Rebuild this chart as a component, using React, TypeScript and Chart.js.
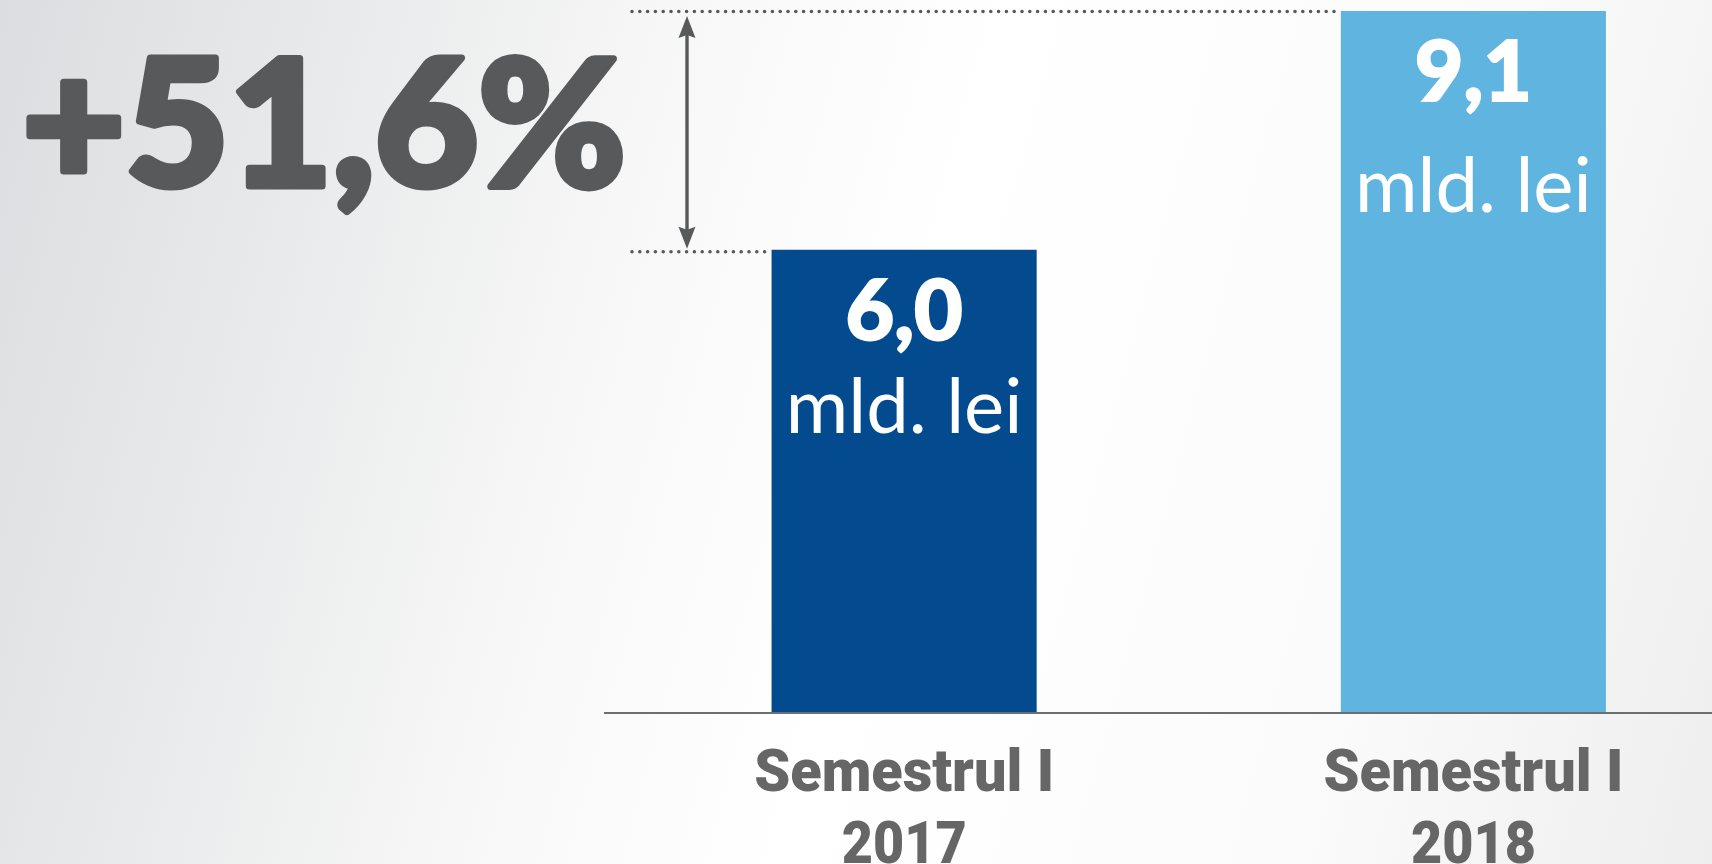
import React, { useEffect, useRef } from "react";
import { Chart, registerables } from "chart.js";

Chart.register(...registerables);

// ---- data ----
const periods: string[] = ["Semestrul I", "Semestrul I"];
const years: string[] = ["2017", "2018"];
const values: number[] = [6.0, 9.1];
const unitLabel = "mld. lei";
const growthLabel = "+51,6%";
const barColors: string[] = ["#034a8f", "#60b5e0"];

const fmt = (v: number) => v.toFixed(1).replace(".", ",");

const GRAY = "#58595b";

function drawFitted(
  ctx: CanvasRenderingContext2D,
  text: string,
  x: number,
  y: number,
  targetW: number,
  align: "left" | "center",
  stroke = 0
) {
  const w = ctx.measureText(text).width;
  const sx = Math.max(0.7, Math.min(1.25, targetW / w));
  ctx.save();
  ctx.translate(x, y);
  ctx.scale(sx, 1);
  ctx.textAlign = align;
  if (stroke > 0) {
    ctx.lineWidth = stroke;
    ctx.lineJoin = "round";
    ctx.strokeText(text, 0, 0);
  }
  ctx.fillText(text, 0, 0);
  ctx.restore();
}

const decorPlugin = {
  id: "decor",
  afterDatasetsDraw(chart: any) {
    const ctx = chart.ctx as CanvasRenderingContext2D;
    const area = chart.chartArea;
    const meta = chart.getDatasetMeta(0);
    const xScale = chart.scales.x;
    const yZero = chart.scales.y.getPixelForValue(0);
    ctx.save();
    // axis line
    ctx.strokeStyle = "#6d6e70";
    ctx.lineWidth = 2;
    ctx.beginPath();
    ctx.moveTo(604, yZero + 1);
    ctx.lineTo(area.right, yZero + 1);
    ctx.stroke();

    // category labels (two lines)
    ctx.fillStyle = "#666666";
    ctx.textBaseline = "alphabetic";
    ctx.font = "900 60px Roboto, 'Liberation Sans', sans-serif";
    (chart.data.labels as string[][]).forEach((lbl, i) => {
      const x = xScale.getPixelForTick(i);
      drawFitted(ctx, lbl[0], x, xScale.top + 79, 300, "center");
      drawFitted(ctx, lbl[1], x, xScale.top + 151, 125, "center");
    });

    // value labels
    const unitOffsets = [183, 201];
    meta.data.forEach((bar: any, i: number) => {
      ctx.fillStyle = "#ffffff";
      ctx.textAlign = "center";
      ctx.textBaseline = "alphabetic";
      ctx.strokeStyle = "#ffffff";
      ctx.font = "900 84px Lato, 'Liberation Sans', sans-serif";
      ctx.lineWidth = 2;
      ctx.strokeText(fmt(values[i]), bar.x, bar.y + 90);
      ctx.fillText(fmt(values[i]), bar.x, bar.y + 90);
      ctx.font = "400 76px Lato, 'Liberation Sans', sans-serif";
      ctx.fillText(unitLabel, bar.x, bar.y + unitOffsets[i]);
    });

    // dotted reference lines
    const b0 = meta.data[0];
    const b1 = meta.data[1];
    ctx.strokeStyle = GRAY;
    ctx.lineWidth = 3.6;
    ctx.lineCap = "round";
    ctx.setLineDash([0, 7.8]);
    ctx.beginPath();
    ctx.moveTo(632, b1.y + 0.5);
    ctx.lineTo(b1.x - b1.width / 2, b1.y + 0.5);
    ctx.stroke();
    ctx.beginPath();
    ctx.moveTo(632, b0.y + 2);
    ctx.lineTo(b0.x - b0.width / 2, b0.y + 2);
    ctx.stroke();
    ctx.setLineDash([]);

    // double arrow
    const ax = 687;
    const yTop = b1.y + 5;
    const yBot = b0.y - 1;
    const hl = 22;
    const hw = 8.5;
    ctx.lineCap = "butt";
    ctx.lineWidth = 3.4;
    ctx.beginPath();
    ctx.moveTo(ax, yTop + hl - 4);
    ctx.lineTo(ax, yBot - hl + 4);
    ctx.stroke();
    ctx.fillStyle = GRAY;
    ctx.beginPath();
    ctx.moveTo(ax, yTop);
    ctx.lineTo(ax - hw, yTop + hl);
    ctx.lineTo(ax, yTop + hl - 3);
    ctx.lineTo(ax + hw, yTop + hl);
    ctx.closePath();
    ctx.fill();
    ctx.beginPath();
    ctx.moveTo(ax, yBot);
    ctx.lineTo(ax - hw, yBot - hl);
    ctx.lineTo(ax, yBot - hl + 3);
    ctx.lineTo(ax + hw, yBot - hl);
    ctx.closePath();
    ctx.fill();

    // growth label
    ctx.font = "900 176px Lato, 'Liberation Sans', sans-serif";
    ctx.textBaseline = "alphabetic";
    ctx.fillStyle = GRAY;
    ctx.strokeStyle = GRAY;
    drawFitted(ctx, growthLabel, 22, 186, 604, "left", 7);
    ctx.restore();
  },
};

export default function App() {
  const ref = useRef<HTMLCanvasElement | null>(null);
  useEffect(() => {
    if (!ref.current) return;
    const chart = new Chart(ref.current, {
      type: "bar",
      data: {
        labels: periods.map((p, i) => [p, years[i]]),
        datasets: [
          {
            data: values,
            backgroundColor: barColors,
            borderWidth: 0,
            categoryPercentage: 1,
            barPercentage: 0.4657,
          },
        ],
      },
      options: {
        responsive: false,
        animation: false,
        devicePixelRatio: 1,
        layout: { padding: { left: 619.5, right: 0, top: 11, bottom: 0 } },
        plugins: {
          legend: { display: false },
          tooltip: { enabled: false },
          title: { display: false },
        },
        scales: {
          y: { display: false, min: 0, max: 9.1 },
          x: {
            grid: { display: false },
            border: { display: false },
            ticks: { display: false },
            afterFit: (scale: any) => {
              scale.height = 152;
            },
          },
        },
      },
      plugins: [decorPlugin],
    });
    return () => chart.destroy();
  }, []);

  return (
    <div
      style={{
        position: "fixed",
        left: 0,
        top: 0,
        width: 1712,
        height: 864,
        overflow: "hidden",
        background:
          "linear-gradient(105deg, #dcdde0 0%, #e9eaeb 18%, #f8f8f8 36%, #ffffff 52%, #fbfbfb 78%, #eeeeef 100%)",
      }}
    >
      <canvas ref={ref} width={1758} height={864} style={{ display: "block" }} />
    </div>
  );
}
